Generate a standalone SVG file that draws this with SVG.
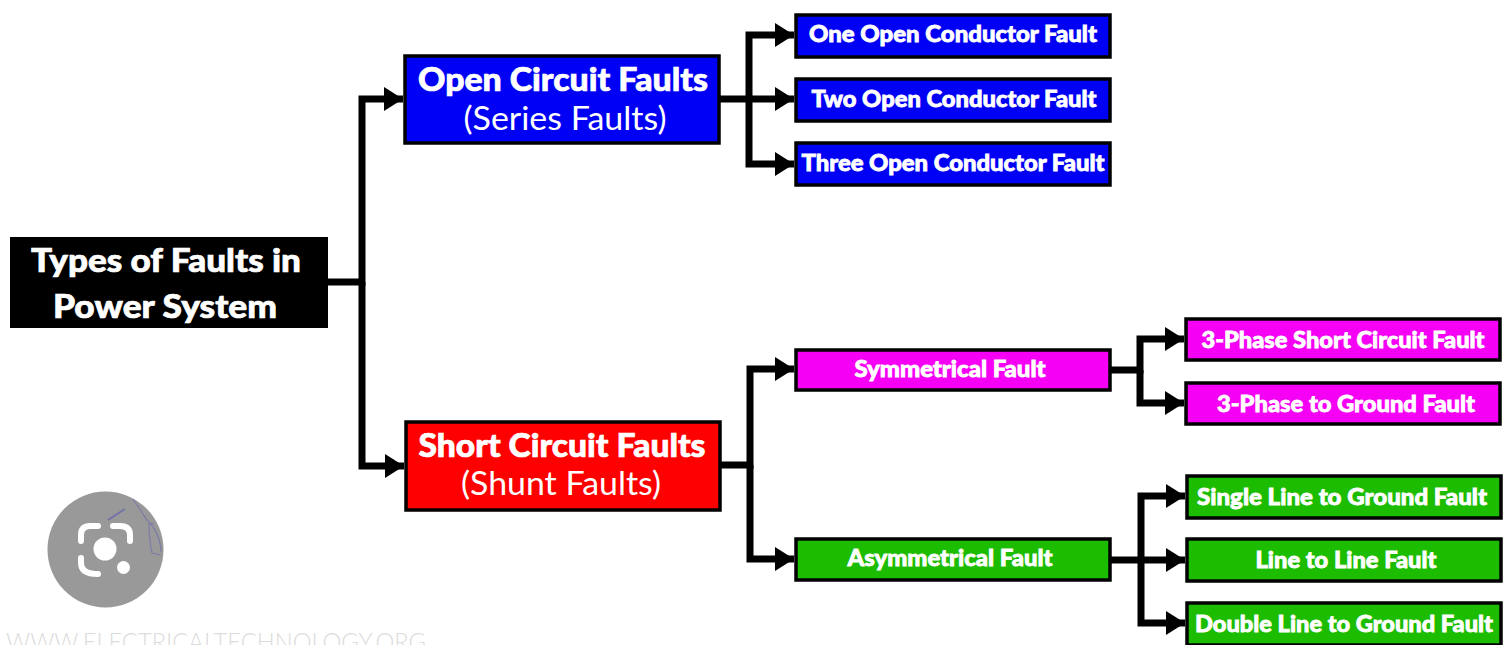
<svg xmlns="http://www.w3.org/2000/svg" width="1503" height="645" viewBox="0 0 1503 645">
<style>
.b{stroke:#000;stroke-width:3.500}
.blue{fill:#0000f5}.red{fill:#fe0000}.mag{fill:#f500f5}.grn{fill:#1cbc00}
text{font-family:"Lato","Open Sans","Liberation Sans",sans-serif;fill:#fff;text-anchor:middle}
.h{font-weight:900;font-size:32px;stroke:#fff;stroke-width:.7}
.s{font-weight:400;font-size:32px}
.l{font-weight:900;font-size:23px;stroke:#fff;stroke-width:.8}
.c{fill:none;stroke:#000;stroke-width:7}
.w{fill:none;stroke:#fff;stroke-width:6;stroke-linecap:round}
</style>
<defs>
<marker id="a" markerUnits="userSpaceOnUse" markerWidth="20" markerHeight="24" refX="19" refY="12" orient="auto"><path d="M0 0L19 12L0 24Z" fill="#000"/></marker>
</defs>
<g id="connectors">
<path class="c" d="M328 282H362V99H403" marker-end="url(#a)"/>
<path class="c" d="M362 282V466H404" marker-end="url(#a)"/>
<path class="c" d="M720 99H794" marker-end="url(#a)"/>
<path class="c" d="M749 99V35H794" marker-end="url(#a)"/>
<path class="c" d="M749 99V164H794" marker-end="url(#a)"/>
<path class="c" d="M721 465H750V369H794" marker-end="url(#a)"/>
<path class="c" d="M750 465V559H794" marker-end="url(#a)"/>
<path class="c" d="M1111 370H1140V339H1184" marker-end="url(#a)"/>
<path class="c" d="M1140 370V403H1184" marker-end="url(#a)"/>
<path class="c" d="M1111 560H1185" marker-end="url(#a)"/>
<path class="c" d="M1141 560V496H1185" marker-end="url(#a)"/>
<path class="c" d="M1141 560V623H1185" marker-end="url(#a)"/>
</g>
<g id="root"><rect x="10" y="237" width="318" height="91" fill="#000"/>
<text class="h" x="166" y="272" textLength="270" lengthAdjust="spacingAndGlyphs">Types of Faults in</text>
<text class="h" x="165" y="318" textLength="224" lengthAdjust="spacingAndGlyphs">Power System</text></g>
<g id="open"><rect class="b blue" x="405" y="56" width="314" height="87"/>
<text class="h" x="563" y="91" textLength="290" lengthAdjust="spacingAndGlyphs">Open Circuit Faults</text>
<text class="s" x="565" y="130" textLength="203" lengthAdjust="spacingAndGlyphs">(Series Faults)</text></g>
<g id="short"><rect class="b red" x="406" y="422" width="314" height="88"/>
<text class="h" x="562" y="457" textLength="287" lengthAdjust="spacingAndGlyphs">Short Circuit Faults</text>
<text class="s" x="561" y="495" textLength="200" lengthAdjust="spacingAndGlyphs">(Shunt Faults)</text></g>
<g id="one"><rect class="b blue" x="796" y="15" width="314" height="42"/><text class="l" x="953" y="42" textLength="288" lengthAdjust="spacingAndGlyphs">One Open Conductor Fault</text></g>
<g id="two"><rect class="b blue" x="796" y="79" width="314" height="42"/><text class="l" x="954" y="107" textLength="285" lengthAdjust="spacingAndGlyphs">Two Open Conductor Fault</text></g>
<g id="three"><rect class="b blue" x="796" y="143" width="314" height="42"/><text class="l" x="953" y="171" textLength="303" lengthAdjust="spacingAndGlyphs">Three Open Conductor Fault</text></g>
<g id="sym"><rect class="b mag" x="796" y="350" width="314" height="40"/><text class="l" x="950" y="377" textLength="191" lengthAdjust="spacingAndGlyphs">Symmetrical Fault</text></g>
<g id="asym"><rect class="b grn" x="796" y="539" width="314" height="41"/><text class="l" x="950" y="566" textLength="205" lengthAdjust="spacingAndGlyphs">Asymmetrical Fault</text></g>
<g id="p3sc"><rect class="b mag" x="1186" y="319" width="314" height="41"/><text class="l" x="1343" y="348" textLength="283" lengthAdjust="spacingAndGlyphs">3-Phase Short Circuit Fault</text></g>
<g id="p3g"><rect class="b mag" x="1186" y="383" width="314" height="41"/><text class="l" x="1346" y="412" textLength="258" lengthAdjust="spacingAndGlyphs">3-Phase to Ground Fault</text></g>
<g id="slg"><rect class="b grn" x="1187" y="476" width="314" height="42"/><text class="l" x="1342" y="505" textLength="290" lengthAdjust="spacingAndGlyphs">Single Line to Ground Fault</text></g>
<g id="ll"><rect class="b grn" x="1187" y="539" width="314" height="42"/><text class="l" x="1346" y="568" textLength="181" lengthAdjust="spacingAndGlyphs">Line to Line Fault</text></g>
<g id="dlg"><rect class="b grn" x="1187" y="603" width="314" height="42"/><text class="l" x="1344" y="632" textLength="298" lengthAdjust="spacingAndGlyphs">Double Line to Ground Fault</text></g>
<circle cx="105.500" cy="549.500" r="58" fill="#999"/>
<path d="M108 520L125 509" fill="none" stroke="#7272a8" stroke-width="2"/>
<path d="M133 499L147 520Q160 532 161 552M149 523Q149 540 152 553L161 555M149 523L154 524" fill="none" stroke="#7c7ca8" stroke-width="1.200"/>
<path class="w" d="M81 541V535Q81 526 90 526H98M113 526H120Q130 526 130 535V541M81 558V563Q81 574 98 574"/>
<circle cx="105" cy="549" r="11.500" fill="#fff"/>
<circle cx="123.500" cy="567.500" r="6.500" fill="#fff"/>
<text x="216" y="651" textLength="420" lengthAdjust="spacingAndGlyphs" style="font-size:26px;fill:#dcdcdc;font-weight:300">WWW.ELECTRICALTECHNOLOGY.ORG</text>
</svg>
